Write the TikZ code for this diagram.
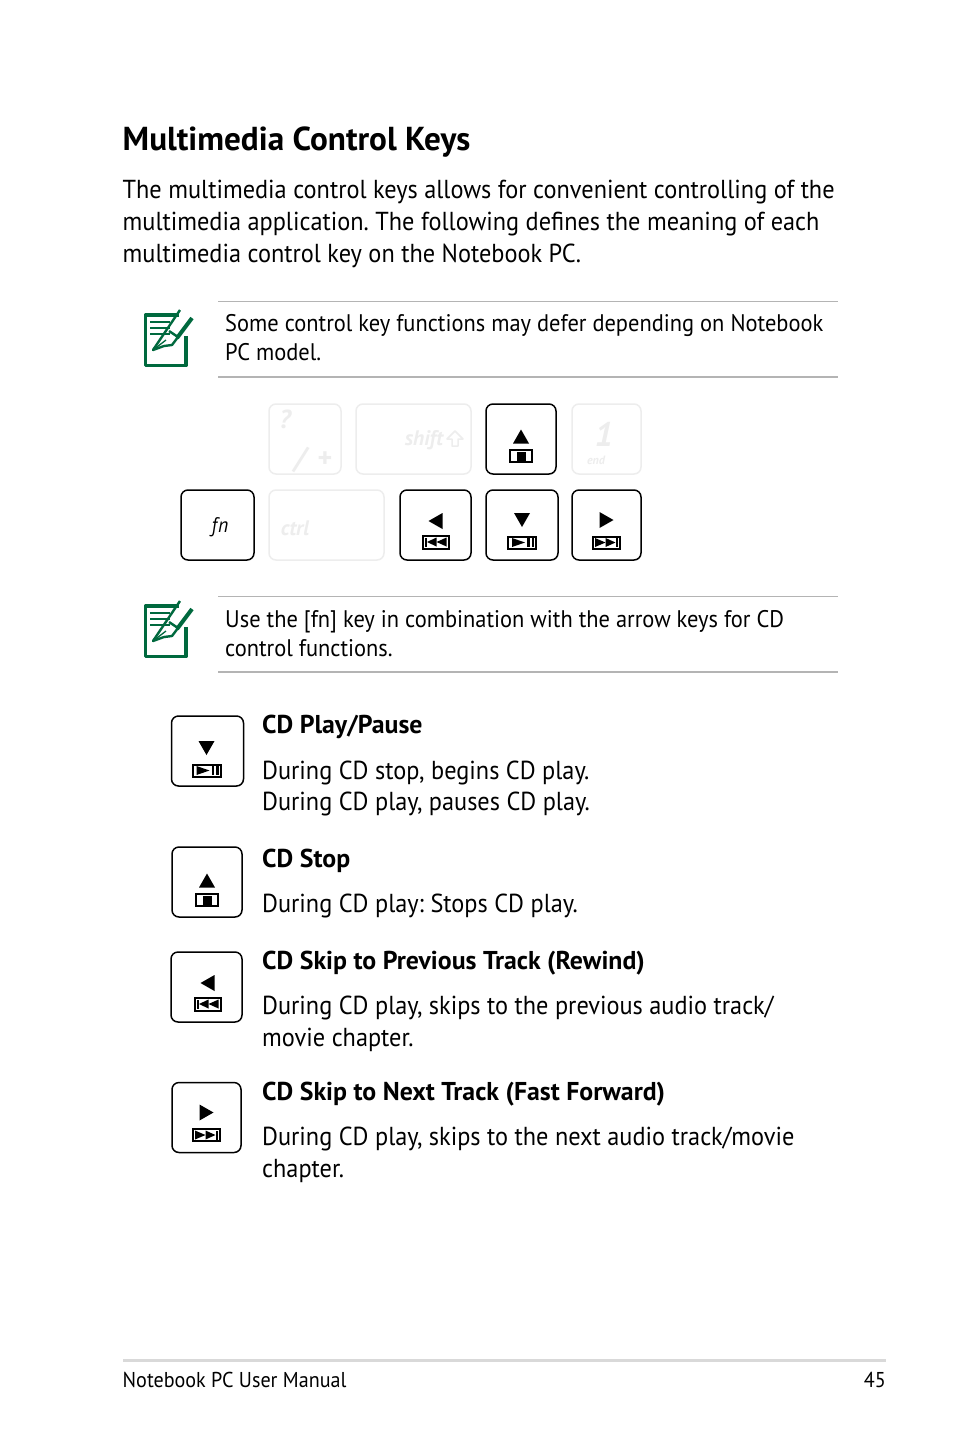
\documentclass[tikz,border=0pt]{standalone}
\usepackage{fontspec}
\setmainfont{PT Sans}[FakeStretch=0.935, BoldFeatures={FakeStretch=1}, BoldItalicFeatures={FakeStretch=1}]
\usepackage{xcolor}
\usepackage{tikz}
\usetikzlibrary{positioning, shapes.geometric, arrows.meta}
\frenchspacing
\definecolor{notegreen}{HTML}{00693E}
\definecolor{ghostgray}{HTML}{EDEDED}
\definecolor{rulegray}{HTML}{B4B4B4}
\tikzset{
    key/.style={draw=black, line width=1.5pt, rounded corners=7pt, inner sep=0pt},
    ghostkey/.style={draw=ghostgray, line width=1.5pt, rounded corners=7pt, inner sep=0pt},
    ghosttext/.style={text=ghostgray, inner sep=0pt, font=\bfseries\itshape},
    titletext/.style={anchor=base west, inner sep=0pt, font=\fontsize{33.2}{36}\selectfont\bfseries},
    headtext/.style={anchor=base west, inner sep=0pt, font=\fontsize{25.8}{30}\selectfont\bfseries},
    bodytext/.style={anchor=base west, inner sep=0pt, font=\fontsize{26}{30}\selectfont},
    notetext/.style={anchor=base west, inner sep=0pt, font=\fontsize{24}{28}\selectfont},
    foottext/.style={inner sep=0pt, font=\fontsize{21.5}{26}\selectfont},
    noterule/.style={draw=rulegray, line width=1pt},
    noterulethick/.style={draw=rulegray, line width=1.6pt},
    % key glyphs, origin at the centre of the key
    upglyph/.pic={
        \fill (-8,5.5) -- (0,-8.5) -- (8,5.5) -- cycle;
        \draw[line width=2pt] (-11,11.5) rectangle (11,23.5);
        \fill (-4.5,13.5) rectangle (4.5,23.5);
    },
    downglyph/.pic={
        \fill (-8,-12) -- (8,-12) -- (0,2) -- cycle;
        \draw[line width=2pt] (-14,11.5) rectangle (14,23.5);
        \fill (-10,13) -- (3,17.5) -- (-10,22) -- cycle;
        \fill (5,13) rectangle (7.5,22);
        \fill (9.5,13) rectangle (12,22);
    },
    leftglyph/.pic={
        \fill (-7,-4) -- (7,-12) -- (7,4) -- cycle;
        \draw[line width=2pt] (-13,10.5) rectangle (13,23.5);
        \fill (-11,12.5) rectangle (-8.5,21.5);
        \fill (-8.5,17) -- (1,12.5) -- (1,21.5) -- cycle;
        \fill (1,17) -- (11,12.5) -- (11,21.5) -- cycle;
    },
    rightglyph/.pic={
        \fill (-7,-13) -- (7,-5) -- (-7,3) -- cycle;
        \draw[line width=2pt] (-13.5,11.5) rectangle (13.5,23.5);
        \fill (-11.5,13) -- (-1,17.5) -- (-11.5,22) -- cycle;
        \fill (-1,13) -- (9,17.5) -- (-1,22) -- cycle;
        \fill (9,13) rectangle (11.5,22);
    },
    % note icon, origin at the top left corner of the sheet
    noteicon/.pic={
        \draw[notegreen, line width=3.4pt, line join=round] (35,1) -- (1.5,1) -- (1.5,51.5) -- (42,51.5) -- (42,22);
        \foreach \y in {8,14,20}
        \draw[notegreen, line width=1.3pt] (6,\y) -- (26,\y);
        \draw[notegreen, line width=2.4pt, line join=round] (36,-4) -- (9,36) -- (20,32) -- (28,31) -- (34,23) -- (25,17);
        \draw[notegreen, line width=4pt] (33,24) -- (48,4);
        \draw[notegreen, line width=1.3pt] (9,36) -- (22,26);
    },
}

\begin{document}
\begin{tikzpicture}[x=1pt, y=-1pt]
    \useasboundingbox[fill=white] (0,0) rectangle (954,1438);

    \node[titletext] (title) at (122.5,150) {Multimedia Control Keys};
    \node[bodytext] (introa) at (122.5,198) {The multimedia control keys allows for convenient controlling of the};
    \node[bodytext] (introb) at (122.5,230) {multimedia application. The following defines the meaning of each};
    \node[bodytext] (introc) at (122.5,262) {multimedia control key on the Notebook PC.};

    % first note
    \draw[noterule] (218,301) -- (838,301);
    \draw[noterulethick] (218,377) -- (838,377);
    \pic at (144,314) {noteicon};
    \node[notetext] (notea) at (225,331.5) {Some control key functions may defer depending on Notebook};
    \node[notetext] (noteb) at (225,360) {PC model.};

    % keyboard
    \node[ghostkey, minimum width=72pt, minimum height=70pt] (slashkey) at (305,439) {};
    \node[ghostkey, minimum width=115pt, minimum height=70pt] (shiftkey) at (413.5,439) {};
    \node[key, minimum width=70pt, minimum height=70pt] (upkey) at (521,439) {};
    \node[ghostkey, minimum width=69pt, minimum height=70pt] (endkey) at (606.5,439) {};
    \node[key, minimum width=73pt, minimum height=70pt] (fnkey) at (217.5,525) {};
    \node[ghostkey, minimum width=115pt, minimum height=70pt] (ctrlkey) at (326.5,525) {};
    \node[key, minimum width=71pt, minimum height=70pt] (leftkey) at (435.5,525) {};
    \node[key, minimum width=72pt, minimum height=70pt] (downkey) at (522,525) {};
    \node[key, minimum width=69pt, minimum height=70pt] (rightkey) at (606.5,525) {};

    \node[ghosttext, font=\fontsize{26}{26}\selectfont\bfseries\itshape] (qmark) at (285,419) {?};
    \node[ghosttext, font=\fontsize{30}{30}\selectfont\bfseries\itshape] (slashmark) at (300,460) {/};
    \node[ghosttext, font=\fontsize{28}{28}\selectfont\bfseries] (plusmark) at (325,460) {+};
    \node[ghosttext, font=\fontsize{21}{21}\selectfont\bfseries\itshape] (shiftmark) at (424,440) {shift};
    \draw[ghostgray, line width=1.5pt, line join=round] (447,439) -- (455,431) -- (463,439) -- (458,439) -- (458,446) -- (452,446) -- (452,439) -- cycle;
    \node[ghosttext, font=\fontsize{34}{34}\selectfont\bfseries\itshape] (onemark) at (604,434) {1};
    \node[ghosttext, font=\fontsize{12}{12}\selectfont\bfseries\itshape] (endmark) at (596,460) {end};
    \node[ghosttext, font=\fontsize{21}{21}\selectfont\bfseries\itshape] (ctrlmark) at (295,528) {ctrl};
    \node[inner sep=0pt, font=\fontsize{21}{21}\selectfont\itshape] (fnmark) at (220,527) {f\kern1pt n};

    \pic at ([yshift=1pt]upkey.center) {upglyph};
    \pic at (leftkey.center) {leftglyph};
    \pic at (downkey.center) {downglyph};
    \pic at (rightkey.center) {rightglyph};

    % second note
    \draw[noterule] (218,596) -- (838,596);
    \draw[noterulethick] (218,672) -- (838,672);
    \pic at (144,605) {noteicon};
    \node[notetext] (notec) at (225,627) {Use the [fn] key in combination with the arrow keys for CD};
    \node[notetext] (noted) at (225,656) {control functions.};

    % play / pause
    \node[key, minimum width=72pt, minimum height=70pt] (playkey) at (207.5,751) {};
    \pic at ([xshift=-1pt,yshift=-2pt]playkey.center) {downglyph};
    \node[headtext] (playhead) at (262,733) {CD Play/Pause};
    \node[bodytext] (playa) at (262,779) {During CD stop, begins CD play.};
    \node[bodytext] (playb) at (262,810) {During CD play, pauses CD play.};

    % stop
    \node[key, minimum width=70pt, minimum height=70pt] (stopkey) at (207,882) {};
    \pic at (stopkey.center) {upglyph};
    \node[headtext] (stophead) at (262,867) {CD Stop};
    \node[bodytext] (stopa) at (262,912) {During CD play: Stops CD play.};

    % previous track
    \node[key, minimum width=71pt, minimum height=70pt] (prevkey) at (206.5,987) {};
    \pic at ([xshift=1pt]prevkey.center) {leftglyph};
    \node[headtext] (prevhead) at (262,969) {CD Skip to Previous Track (Rewind)};
    \node[bodytext] (preva) at (262,1014) {During CD play, skips to the previous audio track/};
    \node[bodytext] (prevb) at (262,1046) {movie chapter.};

    % next track
    \node[key, minimum width=69pt, minimum height=70pt] (nextkey) at (206.5,1117.5) {};
    \pic at (nextkey.center) {rightglyph};
    \node[headtext] (nexthead) at (262,1100) {CD Skip to Next Track (Fast Forward)};
    \node[bodytext] (nexta) at (262,1145) {During CD play, skips to the next audio track/movie};
    \node[bodytext] (nextb) at (262,1177) {chapter.};

    % footer
    \draw[draw=black!15, line width=3pt] (123,1360.5) -- (886,1360.5);
    \node[foottext, anchor=base west] (manual) at (122.5,1387) {Notebook PC User Manual};
    \node[foottext, anchor=base east] (pagenum) at (886,1387) {45};
\end{tikzpicture}
\end{document}
